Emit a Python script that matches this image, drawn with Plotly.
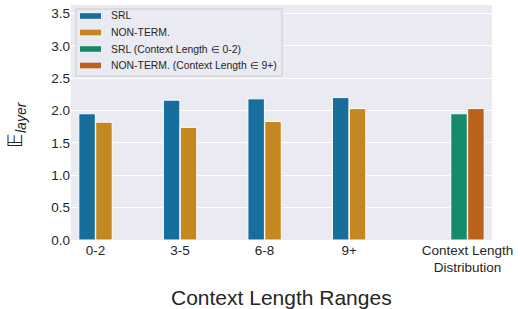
import plotly.graph_objects as go

categories = ["0-2", "3-5", "6-8", "9+"]
srl_values = [1.95, 2.16, 2.18, 2.20]
nonterm_values = [1.82, 1.74, 1.83, 2.03]
dist_label = "Context Length<br>Distribution"
srl_dist_value = [1.95]
nonterm_dist_value = [2.03]
y_ticks = [0.0, 0.5, 1.0, 1.5, 2.0, 2.5, 3.0, 3.5]
legend_labels = ["SRL", "NON-TERM.", "SRL (Context Length ∈ 0-2)", "NON-TERM. (Context Length ∈ 9+)"]

cat_pos = list(range(len(categories)))
dist_pos = 4.4
bw = 0.195
off = 0.1

blue = "#176D9C"
orange = "#C38820"
green = "#168A6A"
red = "#BA611B"
colors = [blue, orange, green, red]

W, H = 520, 309
L, R, T, B = 71, 520 - 492, 5, 309 - 240
pw, ph = W - L - R, H - T - B


def px(x):
    return (x - L) / pw


def py(y):
    return (H - B - y) / ph


fig = go.Figure()
line = dict(color="white", width=1)
fig.add_bar(x=[p - off for p in cat_pos], y=srl_values, width=bw, name=legend_labels[0],
            marker=dict(color=blue, line=line))
fig.add_bar(x=[p + off for p in cat_pos], y=nonterm_values, width=bw, name=legend_labels[1],
            marker=dict(color=orange, line=line))
fig.add_bar(x=[dist_pos - off], y=srl_dist_value, width=bw, name=legend_labels[2],
            marker=dict(color=green, line=line))
fig.add_bar(x=[dist_pos + off], y=nonterm_dist_value, width=bw, name=legend_labels[3],
            marker=dict(color=red, line=line))

shapes = []
annotations = []
# legend box
lx0, lx1, ly0, ly1 = 76, 282, 9, 76
shapes.append(dict(type="rect", xref="paper", yref="paper",
                   x0=px(lx0), x1=px(lx1), y0=py(ly1), y1=py(ly0),
                   fillcolor="rgba(234,234,242,0.9)", line=dict(color="#CCCCCC", width=1)))
rows = [16, 32.5, 49, 65.5]
for lab, col, ry in zip(legend_labels, colors, rows):
    shapes.append(dict(type="rect", xref="paper", yref="paper",
                       x0=px(80), x1=px(101), y0=py(ry + 2.8), y1=py(ry - 2.8),
                       fillcolor=col, line=dict(width=0)))
    annotations.append(dict(text=lab, xref="paper", yref="paper", x=px(109), y=py(ry),
                            xanchor="left", yanchor="middle", showarrow=False,
                            font=dict(size=10.4, color="#262626")))

# axis titles
annotations.append(dict(text="Context Length Ranges", xref="paper", yref="paper",
                        x=px(281), y=py(297), xanchor="center", yanchor="middle",
                        showarrow=False, font=dict(size=21, color="#262626")))
annotations.append(dict(text="𝔼<sub><i>layer</i></sub>", xref="paper", yref="paper",
                        x=px(16), y=py(125), xanchor="center", yanchor="middle",
                        textangle=-90, showarrow=False, font=dict(size=20, color="#262626")))

fig.update_layout(
    width=W, height=H,
    margin=dict(l=L, r=R, t=T, b=B, autoexpand=False),
    paper_bgcolor="white",
    plot_bgcolor="#EAEAF2",
    barmode="overlay",
    font=dict(family="Liberation Sans, Arial, sans-serif", color="#262626", size=14),
    showlegend=False,
    hovermode=False,
    shapes=shapes,
    annotations=annotations,
    xaxis=dict(
        range=[-0.29, 4.69],
        tickvals=cat_pos + [dist_pos],
        ticktext=categories + [dist_label],
        showgrid=False, zeroline=False, ticks="", automargin=False,
        tickfont=dict(size=13.5),
    ),
    yaxis=dict(
        range=[0, 3.63],
        tickvals=y_ticks,
        tickformat=".1f",
        gridcolor="white", gridwidth=1.2, zeroline=False, ticks="", automargin=False,
        tickfont=dict(size=13.5),
    ),
)

fig.write_html("out.html", config={"displayModeBar": False},
               post_script="document.body.style.margin='0px';")
